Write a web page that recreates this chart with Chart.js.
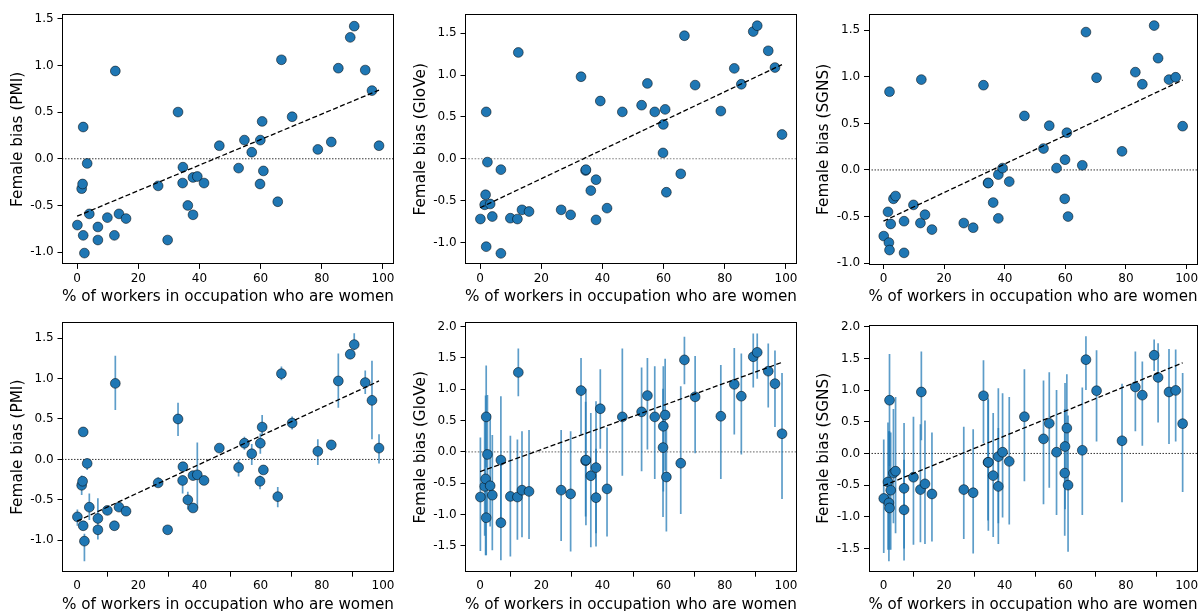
<!DOCTYPE html>
<html><head><meta charset="utf-8">
<script src="https://cdn.jsdelivr.net/npm/chart.js@4.4.1/dist/chart.umd.min.js"></script>
<style>
html,body{margin:0;padding:0;background:#fff;overflow:hidden;width:1203px;height:611px;}
canvas{position:absolute;display:block;}
</style></head><body>
<canvas id="c0" width="400" height="306" style="left:0px;top:0px"></canvas>
<canvas id="c1" width="400" height="306" style="left:403px;top:0px"></canvas>
<canvas id="c2" width="397" height="306" style="left:806px;top:0px"></canvas>
<canvas id="c3" width="400" height="314" style="left:0px;top:300px"></canvas>
<canvas id="c4" width="400" height="314" style="left:403px;top:300px"></canvas>
<canvas id="c5" width="397" height="314" style="left:806px;top:300px"></canvas>
<script>
// % of workers in occupation who are women (shared by all panels)
const occupationShare = [0.1,1.5,1.8,2.0,2.0,2.4,3.3,4.0,6.8,6.8,9.9,12.2,12.5,13.7,16.0,26.5,29.6,33.0,34.5,34.6,36.2,37.9,37.9,39.3,41.5,46.5,52.8,54.7,57.1,59.8,59.9,60.5,60.9,65.6,66.8,70.3,78.7,83.1,85.4,89.3,90.6,94.2,96.4,98.7];

// Female bias per embedding
const biasPMI   = [-0.71,-0.32,-0.27,0.34,-0.82,-1.01,-0.05,-0.59,-0.73,-0.87,-0.63,-0.82,0.94,-0.59,-0.64,-0.29,-0.87,0.50,-0.26,-0.09,-0.50,-0.20,-0.60,-0.19,-0.26,0.14,-0.10,0.20,0.07,-0.27,0.20,0.40,-0.13,-0.46,1.06,0.45,0.10,0.18,0.97,1.30,1.42,0.95,0.73,0.14];
const biasGloVe = [-0.72,-0.55,-0.43,0.56,-1.05,-0.04,-0.54,-0.69,-0.13,-1.13,-0.71,-0.72,1.27,-0.61,-0.63,-0.61,-0.67,0.98,-0.14,-0.13,-0.38,-0.25,-0.73,0.69,-0.59,0.56,0.64,0.90,0.56,0.07,0.41,0.59,-0.40,-0.18,1.47,0.88,0.57,1.08,0.89,1.52,1.59,1.29,1.09,0.29];
const biasSGNS  = [-0.71,-0.45,-0.78,0.84,-0.86,-0.58,-0.31,-0.28,-0.55,-0.89,-0.375,-0.57,0.97,-0.48,-0.64,-0.57,-0.62,0.91,-0.14,-0.14,-0.35,-0.05,-0.52,0.02,-0.125,0.58,0.23,0.475,0.02,-0.31,0.11,0.40,-0.50,0.05,1.48,0.99,0.20,1.05,0.92,1.55,1.20,0.97,0.995,0.47];

// Error bar bounds (bottom row)
const pmiLow    = [-0.82,-0.44,-0.33,0.30,-0.87,-1.26,-0.13,-0.75,-0.80,-0.99,-0.67,-0.85,0.61,-0.63,-0.70,-0.33,-0.89,0.29,-0.42,-0.13,-0.62,-0.25,-0.65,-0.60,-0.29,0.10,-0.21,0.12,-0.07,-0.37,0.07,0.30,-0.17,-0.59,0.98,0.37,-0.07,0.11,0.64,1.27,1.35,0.81,0.25,-0.05];
const pmiHigh   = [-0.62,-0.20,-0.22,0.38,-0.77,-0.92,0.01,-0.42,-0.48,-0.80,-0.59,-0.79,1.28,-0.55,-0.60,-0.22,-0.85,0.70,-0.20,-0.05,-0.40,-0.16,-0.56,0.21,-0.23,0.17,0.00,0.28,0.19,-0.20,0.32,0.55,-0.09,-0.34,1.15,0.53,0.25,0.24,1.31,1.33,1.56,1.10,1.22,0.31];
const gloveLow  = [-1.58,-1.34,-1.65,-0.25,-1.65,-1.00,-1.19,-1.57,-1.15,-1.73,-1.67,-1.40,0.89,-1.36,-1.39,-1.42,-1.59,0.28,-1.03,-1.17,-1.52,-1.30,-1.51,0.05,-1.35,-0.38,-0.31,0.04,-0.43,-1.04,-0.63,-0.30,-1.27,-0.99,1.08,-0.02,-0.43,0.28,-0.04,1.03,1.17,0.71,0.40,-0.75];
const gloveHigh = [0.23,0.49,0.90,1.38,-0.40,0.91,0.60,0.27,0.89,-0.10,0.26,0.20,1.65,0.33,0.35,0.35,0.33,1.50,0.80,1.01,0.62,0.81,0.05,1.32,0.39,1.65,1.35,1.50,1.37,1.01,1.37,1.49,0.45,1.05,1.84,1.53,1.39,1.66,1.57,1.89,1.89,1.73,1.62,1.26];
const sgnsLow   = [-1.57,-1.52,-1.70,-0.20,-1.52,-1.52,-1.10,-1.26,-1.50,-1.69,-1.44,-1.40,0.21,-1.43,-1.39,-1.35,-1.58,0.16,-1.06,-1.22,-1.32,-1.10,-1.43,-1.01,-1.12,-0.44,-0.80,-0.54,-0.97,-1.30,-0.88,-0.55,-1.55,-0.97,1.00,0.19,-0.77,0.35,0.12,1.30,0.49,0.15,0.19,-0.61];
const sgnsHigh  = [0.22,0.49,0.35,1.57,0.35,0.33,0.70,0.89,0.48,-0.10,0.58,0.46,1.61,0.52,0.33,0.42,0.38,1.47,0.88,0.85,0.64,1.03,0.40,0.95,0.89,1.33,1.15,1.28,1.00,0.70,1.11,1.25,0.60,1.04,1.85,1.63,1.10,1.61,1.45,1.80,1.74,1.65,1.64,1.27];

// Fitted trend lines (endpoints)
const trendX        = [0, 98.7];
const trendPMI      = [-0.615, 0.735];
const trendGloVe    = [-0.585, 1.125];
const trendSGNS     = [-0.55, 0.965];
const trendPMIw     = [-0.763, 0.97];
const trendGloVeW   = [-0.315, 1.43];
const trendSGNSw    = [-0.51, 1.43];

// Axes
const xLimits   = [-4.93, 103.6];
const xTicks    = [0, 20, 40, 60, 80, 100];
const yTicksA   = [-1.0, -0.5, 0.0, 0.5, 1.0, 1.5];
const yTicksB   = [-1.5, -1.0, -0.5, 0.0, 0.5, 1.0, 1.5, 2.0];
const yLimPMI   = [-1.131, 1.547];
const yLimGloVe = [-1.262, 1.726];
const yLimSGNS  = [-1.015, 1.671];
const yLimPMIw  = [-1.394, 1.695];
const yLimGloVeW= [-1.92, 2.07];
const yLimSGNSw = [-1.874, 2.035];
const xTitle = '% of workers in occupation who are women';

Chart.defaults.font.family = "'DejaVu Sans', sans-serif";
Chart.defaults.color = '#000';

const framePlugin = {
  id: 'frame',
  afterDraw(chart) {
    const a = chart.chartArea, ctx = chart.ctx;
    const l = Math.round(a.left) + 0.5, t = Math.round(a.top) + 0.5;
    const r = Math.round(a.right) - 0.5, b = Math.round(a.bottom) - 0.5;
    ctx.save();
    ctx.strokeStyle = '#000';
    ctx.lineWidth = 1;
    ctx.strokeRect(l, t, r - l, b - t);
    ctx.restore();
  }
};

const panels = [
  {id:'c0', padTop:14.3, padRight:6,   yW:62,   xH:41.6, name:'PMI',   y:biasPMI,   trend:trendPMI,    lim:yLimPMI,    ticks:yTicksA, gray:false},
  {id:'c1', padTop:14.3, padRight:6,   yW:62,   xH:41.6, name:'GloVe', y:biasGloVe, trend:trendGloVe,  lim:yLimGloVe,  ticks:yTicksA, gray:true},
  {id:'c2', padTop:14.3, padRight:2.5, yW:62.5, xH:41.5, name:'SGNS',  y:biasSGNS,  trend:trendSGNS,   lim:yLimSGNS,   ticks:yTicksA, gray:false},
  {id:'c3', padTop:22.3, padRight:6,   yW:62,   xH:41.8, name:'PMI',   y:biasPMI,   trend:trendPMIw,   lim:yLimPMIw,   ticks:yTicksA, gray:false, lo:pmiLow,   hi:pmiHigh},
  {id:'c4', padTop:22.3, padRight:6,   yW:62,   xH:41.8, name:'GloVe', y:biasGloVe, trend:trendGloVeW, lim:yLimGloVeW, ticks:yTicksB, gray:true,  lo:gloveLow, hi:gloveHigh},
  {id:'c5', padTop:24.5, padRight:2.5, yW:62.5, xH:41.8, name:'SGNS',  y:biasSGNS,  trend:trendSGNSw,  lim:yLimSGNSw,  ticks:yTicksB, gray:false, lo:sgnsLow,  hi:sgnsHigh},
];

panels.forEach(p => {
  const datasets = [];
  datasets.push({
    type: 'line', order: 0,
    data: trendX.map((x, i) => ({x, y: p.trend[i]})),
    borderColor: '#000', borderWidth: 1.3, borderDash: [5, 2.5],
    pointRadius: 0, fill: false, tension: 0
  });
  datasets.push({
    type: 'scatter', order: 1,
    data: occupationShare.map((x, i) => ({x, y: p.y[i]})),
    backgroundColor: '#1f77b4', borderColor: 'rgba(0,0,0,0.85)', borderWidth: 0.6,
    pointRadius: 4.9, pointHoverRadius: 4.9
  });
  if (p.lo) {
    datasets.push({
      type: 'bar', order: 2,
      data: occupationShare.map((x, i) => ({x, y: [p.lo[i], p.hi[i]]})),
      backgroundColor: 'rgba(31,119,180,0.72)', borderWidth: 0,
      barThickness: 1.7, inflateAmount: 0
    });
  }
  datasets.push({
    type: 'line', order: 3,
    data: xLimits.map(x => ({x, y: 0})),
    borderColor: p.gray ? 'rgba(110,110,110,0.85)' : '#000',
    borderWidth: p.gray ? 1.2 : 0.8, borderDash: p.gray ? [1.6, 1.6] : [1.5, 1.5],
    pointRadius: 0, fill: false
  });

  new Chart(document.getElementById(p.id), {
    type: 'scatter',
    data: { datasets },
    plugins: [framePlugin],
    options: {
      responsive: false, animation: false, devicePixelRatio: 1,
      events: [],
      layout: { padding: { top: p.padTop, right: p.padRight, left: 0, bottom: 0 } },
      plugins: { legend: { display: false }, tooltip: { enabled: false } },
      scales: {
        x: {
          type: 'linear', min: xLimits[0], max: xLimits[1], offset: false,
          afterBuildTicks: s => { s.ticks = xTicks.map(v => ({value: v})); },
          afterFit: s => { s.height = p.xH; },
          ticks: { font: { size: 12 }, padding: 2.3, maxRotation: 0, autoSkip: false, callback: v => String(v) },
          grid: { display: true, drawOnChartArea: false, drawTicks: true, tickLength: 4.5, tickColor: '#000', tickWidth: 1 },
          border: { display: false },
          title: { display: true, text: xTitle, font: { size: 15.3 }, padding: 0 }
        },
        y: {
          type: 'linear', min: p.lim[0], max: p.lim[1],
          afterBuildTicks: s => { s.ticks = p.ticks.map(v => ({value: v})); },
          afterFit: s => { s.width = p.yW; },
          ticks: { font: { size: 12 }, padding: 3.9, autoSkip: false, callback: v => v.toFixed(1) },
          grid: { display: true, drawOnChartArea: false, drawTicks: true, tickLength: 4.5, tickColor: '#000', tickWidth: 1 },
          border: { display: false },
          title: { display: true, text: 'Female bias (' + p.name + ')', font: { size: 15.3 }, padding: { top: 9.2, bottom: 0 } }
        }
      }
    }
  });
});
</script>
</body></html>
